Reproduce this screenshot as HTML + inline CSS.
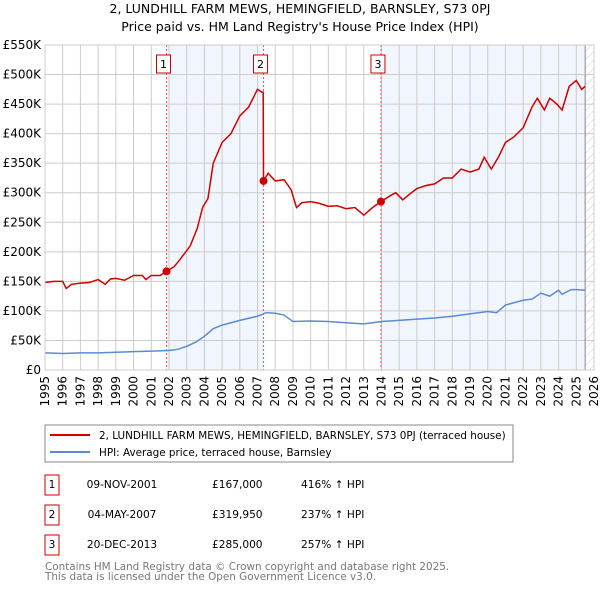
<!DOCTYPE html>
<html><head><meta charset="utf-8"><style>
body{margin:0;background:#fff;font-family:"DejaVu Sans","Liberation Sans",sans-serif;}
svg text{font-family:"DejaVu Sans","Liberation Sans",sans-serif;}
</style></head><body>
<svg id="chart" width="600" height="590" xmlns="http://www.w3.org/2000/svg">
<defs><pattern id="hatch" width="6" height="6" patternUnits="userSpaceOnUse" patternTransform="rotate(45)"><line x1="0" y1="0" x2="0" y2="6" stroke="#ccc" stroke-width="1"/></pattern></defs>
<text x="300" y="13" text-anchor="middle" font-size="12.5">2, LUNDHILL FARM MEWS, HEMINGFIELD, BARNSLEY, S73 0PJ</text>
<text x="300" y="31" text-anchor="middle" font-size="12.5">Price paid vs. HM Land Registry's House Price Index (HPI)</text>
<g id="plot"></g>
<g>
<rect x="45" y="425" width="468" height="37" fill="#fff" stroke="#888"/>
<line x1="50" y1="435" x2="90" y2="435" stroke="#cc0000" stroke-width="2"/>
<text x="99" y="439" font-size="10.4">2, LUNDHILL FARM MEWS, HEMINGFIELD, BARNSLEY, S73 0PJ (terraced house)</text>
<line x1="50" y1="452" x2="90" y2="452" stroke="#5b8bd0" stroke-width="2"/>
<text x="99" y="456" font-size="10.4">HPI: Average price, terraced house, Barnsley</text>
</g>
<g font-size="10.6">
<rect x="45" y="475" width="14" height="20" fill="none" stroke="#cc0000"/><text x="52" y="488" text-anchor="middle">1</text>
<text x="122" y="488" text-anchor="middle">09-NOV-2001</text><text x="212" y="488">£167,000</text><text x="301" y="488">416% ↑ HPI</text>
<rect x="45" y="505" width="14" height="20" fill="none" stroke="#cc0000"/><text x="52" y="518" text-anchor="middle">2</text>
<text x="122" y="518" text-anchor="middle">04-MAY-2007</text><text x="212" y="518">£319,950</text><text x="301" y="518">237% ↑ HPI</text>
<rect x="45" y="535" width="14" height="20" fill="none" stroke="#cc0000"/><text x="52" y="548" text-anchor="middle">3</text>
<text x="122" y="548" text-anchor="middle">20-DEC-2013</text><text x="212" y="548">£285,000</text><text x="301" y="548">257% ↑ HPI</text>
</g>
<text x="45" y="570" font-size="10.4" fill="#777">Contains HM Land Registry data © Crown copyright and database right 2025.</text>
<text x="45" y="580" font-size="10.4" fill="#777">This data is licensed under the Open Government Licence v3.0.</text>
</svg>
<script>
const yTicks=[0,50,100,150,200,250,300,350,400,450,500,550];
const yTickLabels=["£0","£50K","£100K","£150K","£200K","£250K","£300K","£350K","£400K","£450K","£500K","£550K"];
const xTicks=[1995,1996,1997,1998,1999,2000,2001,2002,2003,2004,2005,2006,2007,2008,2009,2010,2011,2012,2013,2014,2015,2016,2017,2018,2019,2020,2021,2022,2023,2024,2025,2026];
const saleDates=[2001.86,2007.34,2013.97];
const salePrices=[167,319.95,285];
const saleLabels=["1","2","3"];
const redX=[1995,1995.5,1996,1996.2,1996.5,1997,1997.5,1998,1998.4,1998.7,1999,1999.5,2000,2000.5,2000.7,2001,2001.5,2001.86,2002.3,2002.7,2003.2,2003.6,2003.9,2004.2,2004.5,2005,2005.5,2006,2006.5,2007,2007.25,2007.32,2007.34,2007.6,2008,2008.5,2008.9,2009.2,2009.5,2010,2010.5,2011,2011.5,2012,2012.5,2013,2013.5,2013.97,2014.5,2014.8,2015.2,2015.6,2016,2016.5,2017,2017.5,2018,2018.5,2019,2019.5,2019.8,2020.2,2020.6,2021,2021.5,2022,2022.5,2022.8,2023.2,2023.5,2023.9,2024.2,2024.6,2025,2025.3,2025.5];
const redY=[148,150,150,138,145,147,148,153,145,154,155,152,160,160,153,160,160,167,175,190,210,240,275,290,350,385,400,430,445,475,470,470,320,333,320,322,305,275,283,285,282,277,278,273,275,262,275,285,295,300,288,298,307,312,315,325,325,340,335,340,360,340,360,385,395,410,445,460,440,460,450,440,480,490,475,480];
const blueX=[1995,1996,1997,1998,1999,2000,2001,2002,2002.5,2003,2003.5,2004,2004.5,2005,2006,2007,2007.5,2008,2008.5,2009,2010,2011,2012,2013,2013.5,2014,2015,2016,2017,2018,2019,2020,2020.5,2021,2022,2022.5,2023,2023.5,2024,2024.2,2024.7,2025,2025.5];
const blueY=[29,28,29,29,30,31,32,33,35,40,47,57,70,76,84,91,97,96,93,82,83,82,80,78,80,82,84,86,88,91,95,99,97,110,118,120,130,125,135,128,136,136,135];
const X0=45,X1=594,Y0=370,YT=45;
function xs(v){return X0+(v-1995)*(X1-X0)/31;}
function ys(v){return Y0-v*(Y0-YT)/550;}
const NS="http://www.w3.org/2000/svg";
const g=document.getElementById('plot');
function mk(t,a){const e=document.createElementNS(NS,t);for(const k in a)e.setAttribute(k,a[k]);g.appendChild(e);return e;}
let e;
e=mk('rect',{x:xs(saleDates[0]),y:YT,width:xs(saleDates[1])-xs(saleDates[0]),height:Y0-YT,fill:'#eef3fc',opacity:0.8});


e=mk('rect',{x:xs(saleDates[2]),y:YT,width:xs(2025.5)-xs(saleDates[2]),height:Y0-YT,fill:'#eef3fc',opacity:0.8});


e=mk('rect',{x:xs(2025.5),y:YT,width:X1-xs(2025.5),height:Y0-YT,fill:'url(#hatch)'});


yTicks.forEach((v,i)=>{
 e=mk('line',{x1:X0,x2:X1,y1:ys(v),y2:ys(v),stroke:'#ccc'});
 
 
 e=mk('text',{x:X0-4,y:ys(v)+4,'text-anchor':'end','font-size':12});
 e.textContent=yTickLabels[i];
 
 
});
xTicks.forEach(v=>{
 e=mk('line',{x1:xs(v),x2:xs(v),y1:YT,y2:Y0,stroke:'#ccc'});
 
 
 e=mk('text',{x:0,y:0,'font-size':12,'text-anchor':'end',transform:`translate(${xs(v)+4},${Y0+6}) rotate(-90)`});
 e.textContent=v;
 
 
});
e=mk('line',{x1:xs(2025.5),x2:xs(2025.5),y1:YT,y2:Y0,stroke:'#888'});


saleDates.forEach((d,i)=>{
 e=mk('line',{x1:xs(d),x2:xs(d),y1:YT,y2:Y0,stroke:'#ee5555','stroke-dasharray':'2,2'});
 
 
 e=mk('rect',{x:xs(d)-10,y:55,width:14,height:18,fill:'#fff',stroke:'#cc0000'});
 
 
 e=mk('text',{x:xs(d)-3,y:68,'font-size':11,'text-anchor':'middle'});
 e.textContent=saleLabels[i];
 
 
});
e=mk('polyline',{points:blueX.map((x,i)=>xs(x)+','+ys(blueY[i])).join(' '),fill:'none',stroke:'#5b8bd0','stroke-width':1.5});


e=mk('polyline',{points:redX.map((x,i)=>xs(x)+','+ys(redY[i])).join(' '),fill:'none',stroke:'#cc0000','stroke-width':1.5});


saleDates.forEach((d,i)=>{
 e=mk('circle',{cx:xs(d),cy:ys(salePrices[i]),r:4,fill:'#cc0000'});
 
 
});
e=mk('rect',{x:X0,y:YT,width:X1-X0,height:Y0-YT,fill:'none',stroke:'#ccc'});


</script>
</body></html>
